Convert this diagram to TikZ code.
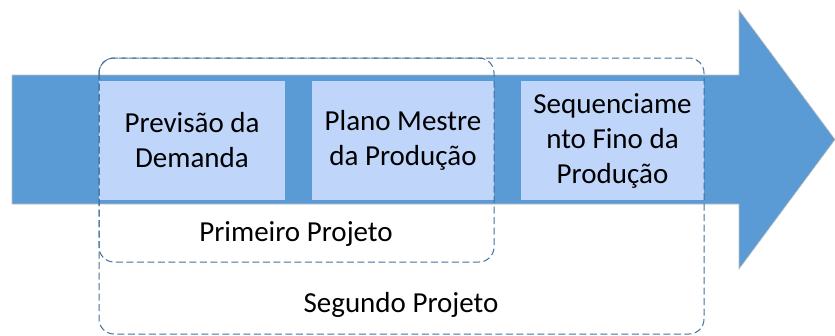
\documentclass[tikz,border=0pt]{standalone}
\usepackage{fontspec}
\setmainfont{Carlito}
\definecolor{arrowblue}{HTML}{5B9BD5}
\definecolor{boxblue}{HTML}{BFD5FA}
\definecolor{dashblue}{HTML}{41719C}
\begin{document}
\begin{tikzpicture}[x=1pt,y=-1pt,
  stagebox/.style={fill=boxblue, draw=none, align=center, font=\fontsize{29}{35}\selectfont, text=black},
  projframe/.style={draw=dashblue, dashed, dash pattern=on 7pt off 3.5pt, line width=1pt, rounded corners=15pt},
  projlabel/.style={font=\fontsize{29}{35}\selectfont, text=black}]
\useasboundingbox (0,0) rectangle (835,335);
% big arrow
\fill[arrowblue, draw=black!25, line width=0.6pt] (12,75) -- (739,75) -- (739,10) -- (835,139.5) -- (739,269) -- (739,204) -- (12,204) -- cycle;
% stage boxes
\path[stagebox] (99,81) rectangle (285,200);
\path[stagebox] (312,81) rectangle (494,200);
\path[stagebox] (521,81) rectangle (704,200);
\node[stagebox, fill=none] (prev) at (192,140.5) {Previsão da\\Demanda};
\node[stagebox, fill=none] (plano) at (403,140.5) {Plano Mestre\\da Produção};
\node[stagebox, fill=none] (seq) at (612.5,140.5) {Sequenciame\\nto Fino da\\Produção};
% project frames
\draw[projframe] (99,58) rectangle (704,334);
\draw[projframe] (99,58) rectangle (494,262);
\node[projlabel] (p1) at (296,234) {Primeiro Projeto};
\node[projlabel] (p2) at (401,305) {Segundo Projeto};
\end{tikzpicture}
\end{document}
